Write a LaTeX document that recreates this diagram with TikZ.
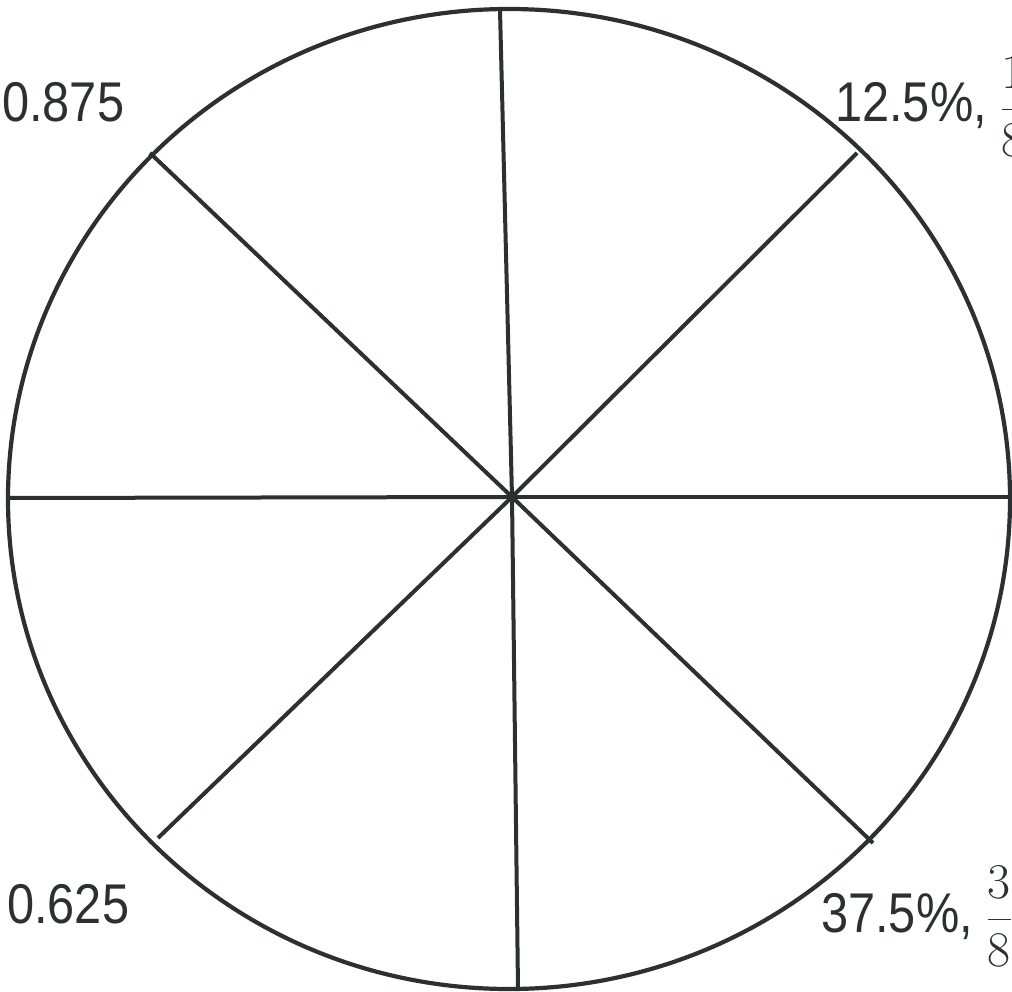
\RequirePackage{fix-cm}
\documentclass[tikz,border=0pt]{standalone}
\usepackage{amsmath}
\usepackage{fontspec}
\newfontfamily\lblfont[FakeStretch=0.87]{Liberation Sans}
\definecolor{ink}{HTML}{2B3131}

\begin{document}
\begin{tikzpicture}[x=1pt,y=-1pt,
  rim/.style={draw=ink,line width=4.2pt},
  spoke/.style={draw=ink,line width=4pt},
  hub/.style={circle,fill=ink,inner sep=0pt,minimum size=10pt},
  lbl/.style={anchor=base west,inner sep=0pt,text=ink,font=\lblfont\fontsize{56}{64}\selectfont}]
\useasboundingbox (0,0) rectangle (1012,992);
% rim and hub
\coordinate (c) at (509,499);
\node[hub] (o) at (512,497) {};
\draw[rim] (c) ellipse [x radius=501, y radius=490];
% spoke ends on the rim
\coordinate (n)  at (500,10);
\coordinate (ne) at (857,153);
\coordinate (e)  at (1010,497);
\coordinate (se) at (873,843);
\coordinate (s)  at (518,989);
\coordinate (sw) at (158,838);
\coordinate (w)  at (8,498);
\coordinate (nw) at (150,153);
\foreach \p in {n,ne,e,se,s,sw,w,nw}
  \draw[spoke] (o.center) -- (\p);
% labels
\node[lbl] (l875) at (2,122) {0.875};
\node[lbl] (l125) at (835,122) {12.5\%, {\fontsize{50}{54}\selectfont$\dfrac{1}{8}$}};
\node[lbl] (l625) at (7,923) {0.625};
\node[lbl] (l375) at (821,932) {37.5\%, {\fontsize{50}{54}\selectfont$\dfrac{3}{8}$}};
\end{tikzpicture}
\end{document}
